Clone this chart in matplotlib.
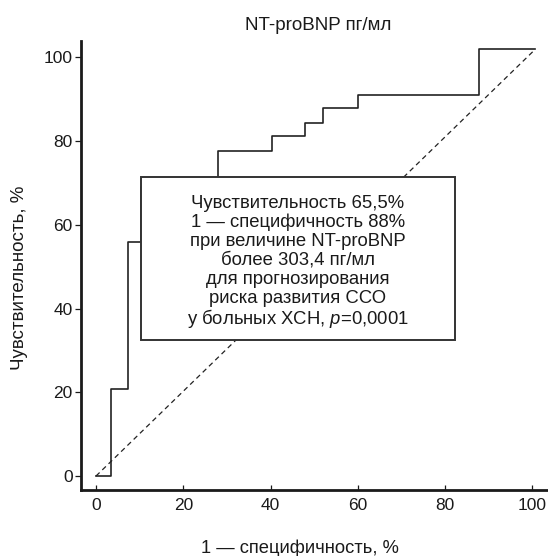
import matplotlib
matplotlib.use("Agg")
import matplotlib.pyplot as plt
from matplotlib.patches import Rectangle
from matplotlib.transforms import offset_copy

plt.rcParams['font.family'] = ['Liberation Sans', 'DejaVu Sans']
plt.rcParams['mathtext.fontset'] = 'custom'
plt.rcParams['mathtext.rm'] = 'Liberation Sans'
plt.rcParams['mathtext.it'] = 'Liberation Sans:italic'

# ROC curve: 1 - specificity (%) at each step and sensitivity (%) held from that point
fpr_steps = [0, 3.4, 7.3, 10.2, 27.9, 40.4, 48.0, 52.1, 60.1, 87.8, 100.6]
sensitivity = [0, 20.8, 55.8, 69.0, 77.7, 81.3, 84.4, 87.9, 91.0, 101.9, 101.9]

# reference (chance) line end points
diag_x = [0, 100.6]
diag_y = [0, 101.9]

x_ticks = [0, 20, 40, 60, 80, 100]
y_ticks = [0, 20, 40, 60, 80, 100]

title = "NT-proBNP пг/мл"
x_label = "1 — специфичность, %"
y_label = "Чувствительность, %"
box_lines = [
    "Чувствительность 65,5%",
    "1 — специфичность 88%",
    "при величине NT-proBNP",
    "более 303,4 пг/мл",
    "для прогнозирования",
    "риска развития ССО",
    "у больных ХСН, $\\mathit{p}$=0,0001",
]

W, H = 548, 556
ink = '#1a1a1a'
fig = plt.figure(figsize=(W / 100, H / 100), dpi=100)
ax = fig.add_axes([81 / W, 1 - 490 / H, (547.7 - 81) / W, (490 - 40.7) / H])

ax.step(fpr_steps, sensitivity, where='post', color='#222222', lw=1.2, zorder=2)
ax.plot(diag_x, diag_y, color='#222222', lw=0.9, ls=(0, (4, 3)), zorder=2)

ax.set_xlim(-3.44, 103.5)
ax.set_ylim(-3.34, 104.0)
ax.set_xticks(x_ticks)
ax.set_yticks(y_ticks)

for side in ('top', 'right'):
    ax.spines[side].set_visible(False)
for side in ('left', 'bottom'):
    ax.spines[side].set_linewidth(2.0)
    ax.spines[side].set_color(ink)

ax.tick_params(axis='x', direction='in', length=3.5, width=0.9, pad=6,
               labelsize=12.5, colors=ink)
ax.tick_params(axis='y', direction='out', length=4.5, width=0.9, pad=1.5,
               labelsize=12.5, colors=ink)

# annotation box over the curve
bx0, bx1, by0, by1 = 10.2, 82.2, 32.6, 71.4
ax.add_patch(Rectangle((bx0, by0), bx1 - bx0, by1 - by0, facecolor='white',
                       edgecolor='#333333', lw=1.4, zorder=5))
cx, cy = (bx0 + bx1) / 2, (by0 + by1) / 2
line_step = 18.9  # pixels between text lines
n = len(box_lines)
for i, line in enumerate(box_lines):
    dy = ((n - 1) / 2 - i) * line_step
    tr = offset_copy(ax.transData, fig=fig, x=0, y=dy, units='dots')
    ax.text(cx, cy, line, transform=tr, ha='center', va='center_baseline',
            fontsize=13.3, color=ink, zorder=6)

fig.text(318 / W, 1 - 25.7 / H, title, ha='center', va='center',
         fontsize=13.5, color=ink)
fig.text(300 / W, 1 - 548 / H, x_label, ha='center', va='center',
         fontsize=13.2, color=ink)
fig.text(20 / W, 1 - 278 / H, y_label, ha='center', va='center',
         rotation=90, fontsize=13.5, color=ink)

fig.savefig("out.png", dpi=100)
